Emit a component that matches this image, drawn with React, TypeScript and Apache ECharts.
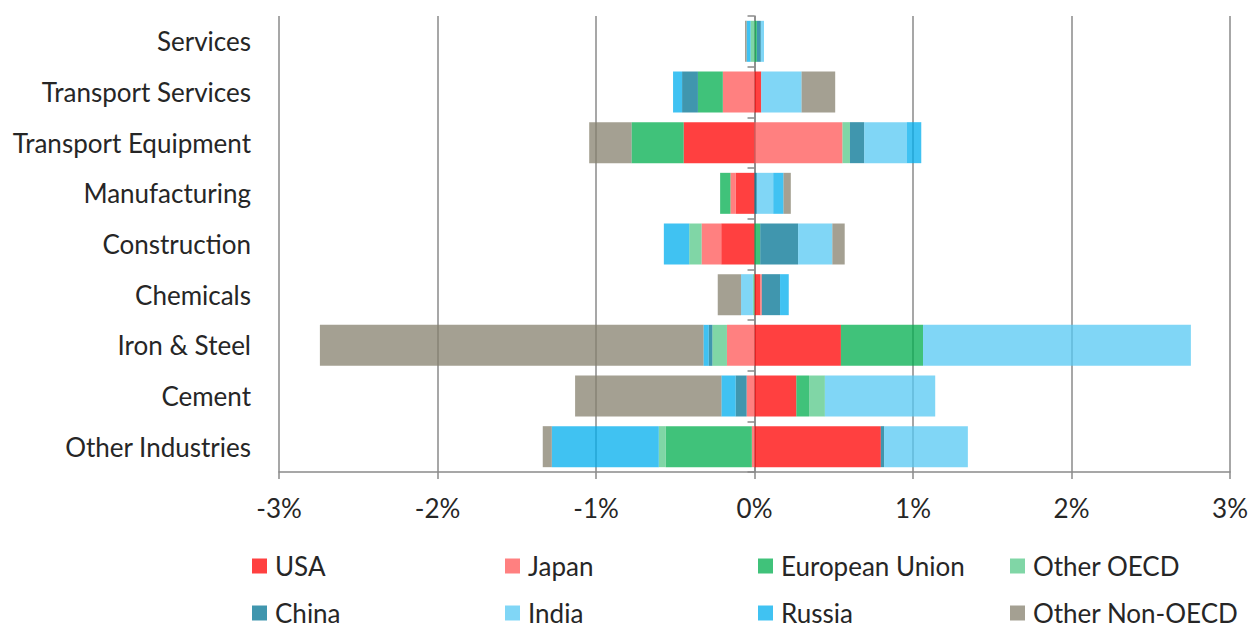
import React, { useEffect, useRef } from "react";
import * as echarts from "echarts";

const categories = [
  "Other Industries",
  "Cement",
  "Iron & Steel",
  "Chemicals",
  "Construction",
  "Manufacturing",
  "Transport Equipment",
  "Transport Services",
  "Services",
];

const xTicks = [-3, -2, -1, 0, 1, 2, 3];

const seriesNames = [
  "USA",
  "Japan",
  "European Union",
  "Other OECD",
  "China",
  "India",
  "Russia",
  "Other Non-OECD",
];

// values in % (categories order, bottom to top)
const usa = [0.797, 0.264, 0.545, 0.036, -0.21, -0.119, -0.447, 0.042, 0];
const japan = [-0.017, -0.05, -0.174, 0.01, -0.124, -0.033, 0.555, -0.2, 0];
const eu = [-0.543, 0.08, 0.518, 0, 0.036, -0.065, -0.329, -0.157, 0.015];
const otherOecd = [-0.044, 0.1, -0.092, -0.01, -0.078, 0, 0.047, 0, -0.025];
const china = [0.021, -0.069, -0.023, 0.115, 0.239, 0.015, 0.09, -0.1, 0.025];
const india = [0.528, 0.696, 1.69, -0.075, 0.216, 0.103, 0.268, 0.255, 0.02];
const russia = [-0.675, -0.09, -0.033, 0.055, -0.16, 0.065, 0.092, -0.057, -0.025];
const otherNonOecd = [-0.057, -0.923, -2.42, -0.147, 0.078, 0.046, -0.267, 0.212, -0.01];

const seriesValues = [usa, japan, eu, otherOecd, china, india, russia, otherNonOecd];

const colors = [
  "rgba(255,0,0,0.75)",
  "rgba(255,85,85,0.75)",
  "rgba(0,174,78,0.75)",
  "rgba(85,200,136,0.75)",
  "rgba(0,115,147,0.75)",
  "rgba(85,200,243,0.75)",
  "rgba(0,174,238,0.75)",
  "rgba(133,128,110,0.75)",
];

const FONT = "Lato";
const FS = 26;
const TEXT = "#262626";
const GRID = "#8a8a8a";

const legendCols = [252, 505, 758, 1010];
const legendRows = [567, 614];

export default function App() {
  const ref = useRef<HTMLDivElement>(null);
  useEffect(() => {
    if (!ref.current) return;
    const chart = echarts.init(ref.current, undefined, { renderer: "svg" });
    const legends = seriesNames.map((name, i) => ({
      data: [name],
      left: legendCols[i % 4],
      top: legendRows[Math.floor(i / 4)] - 14,
      padding: 0,
      itemWidth: 15,
      itemHeight: 15,
      itemGap: 0,
      icon: "rect",
      selectedMode: false,
      textStyle: {
        fontFamily: FONT,
        fontSize: FS,
        color: TEXT,
        lineHeight: 26,
        padding: [0, 0, 0, 3],
      },
    }));
    chart.setOption({
      animation: false,
      color: colors,
      textStyle: { fontFamily: FONT },
      grid: { left: 279, right: 19, top: 16, bottom: 156, containLabel: false },
      legend: legends,
      xAxis: {
        type: "value",
        min: xTicks[0],
        max: xTicks[xTicks.length - 1],
        interval: 1,
        axisLine: { show: true, onZero: false, lineStyle: { color: GRID, width: 1.5 } },
        axisTick: { show: true, length: 7, lineStyle: { color: GRID, width: 1.5 } },
        splitLine: { show: true, lineStyle: { color: GRID, width: 1.5 } },
        axisLabel: {
          formatter: "{value}%",
          fontFamily: FONT,
          fontSize: FS,
          color: TEXT,
          margin: 23,
        },
      },
      yAxis: [
        {
          type: "category",
          data: categories,
          position: "left",
          axisLine: { show: false, onZero: false },
          axisTick: { show: false },
          axisLabel: {
            fontFamily: FONT,
            fontSize: FS,
            color: TEXT,
            margin: 28,
            padding: [0, 0, 4, 0],
          },
        },
        {
          type: "category",
          data: categories,
          position: "left",
          axisLine: { show: true, onZero: true, lineStyle: { color: GRID, width: 1.5 } },
          axisTick: { show: true, length: 7, lineStyle: { color: GRID, width: 1.5 } },
          axisLabel: { show: false },
          splitLine: { show: false },
        },
      ],
      series: seriesNames.map((name, i) => ({
        name,
        type: "bar",
        stack: "total",
        yAxisIndex: 0,
        barWidth: 41,
        data: seriesValues[i],
        itemStyle: { color: colors[i] },
      })),
    });
    return () => chart.dispose();
  }, []);
  return (
    <div
      ref={ref}
      style={{ position: "fixed", left: 0, top: 0, width: 1251, height: 628, background: "#fff" }}
    />
  );
}
